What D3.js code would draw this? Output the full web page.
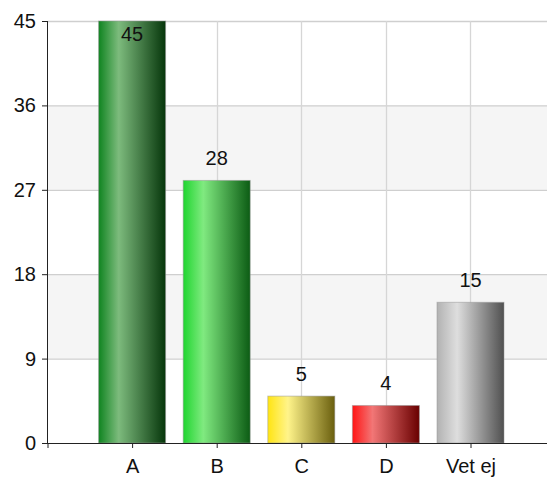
<!DOCTYPE html>
<html>
<head>
<meta charset="utf-8">
<script src="https://cdn.jsdelivr.net/npm/d3@7"></script>
<style>
  html, body { margin: 0; padding: 0; background: #fff; }
  svg { display: block; }
  text { font-family: Arial, "Liberation Sans", sans-serif; fill: #111; }
</style>
</head>
<body>
<div id="chart"></div>
<script>
// Answer counts per category
const categories = ["A", "B", "C", "D", "Vet ej"];
const values = [45, 28, 5, 4, 15];
const yTicks = [0, 9, 18, 27, 36, 45];

// Gradient stops per bar: edge colour, highlight, shaded side
const barColors = [
  ["#0f8420", "#7dbb7d", "#06360b"],
  ["#1fd52f", "#80ea80", "#0c5c14"],
  ["#ffe412", "#fff48a", "#6a5f0e"],
  ["#ff1414", "#f27676", "#690000"],
  ["#b2b2b2", "#dedede", "#505050"]
];

const W = 547, H = 478;
const margin = { left: 48, top: 21, bottom: 35 };
const plotBottom = H - margin.bottom;
const fontSize = 20;

const svg = d3.select("#chart").append("svg")
  .attr("width", W).attr("height", H);

// Positions: axis start plus one slot per category, and a trailing slot
const step = 84.6;
const x0 = margin.left - 0.5;
const x = d3.scalePoint()
  .domain(["", ...categories, " "])
  .range([x0, x0 + step * (categories.length + 1)]);

const y = d3.scaleLinear().domain([0, 45]).range([plotBottom, margin.top]);

const defs = svg.append("defs");
barColors.forEach((c, i) => {
  const g = defs.append("linearGradient")
    .attr("id", "grad" + i)
    .attr("x1", "0%").attr("x2", "100%").attr("y1", "0%").attr("y2", "0%");
  g.append("stop").attr("offset", "0%").attr("stop-color", c[0]);
  g.append("stop").attr("offset", "30%").attr("stop-color", c[1]);
  g.append("stop").attr("offset", "100%").attr("stop-color", c[2]);
});

// Alternating horizontal bands
const bands = svg.append("g");
for (let i = 0; i < yTicks.length - 1; i++) {
  if (i % 2 === 1) {
    bands.append("rect")
      .attr("x", margin.left).attr("width", W - margin.left)
      .attr("y", y(yTicks[i + 1]))
      .attr("height", y(yTicks[i]) - y(yTicks[i + 1]))
      .attr("fill", "#f5f5f5");
  }
}

// Horizontal grid lines
svg.append("g").selectAll("line").data(yTicks.slice(1)).join("line")
  .attr("x1", margin.left).attr("x2", W)
  .attr("y1", d => y(d) + 0.5).attr("y2", d => y(d) + 0.5)
  .attr("stroke", "#cfcfcf").attr("stroke-width", 1.3);

// Vertical grid lines at category centres
svg.append("g").selectAll("line").data(categories).join("line")
  .attr("x1", d => Math.round(x(d)) + 0.5).attr("x2", d => Math.round(x(d)) + 0.5)
  .attr("y1", margin.top).attr("y2", plotBottom)
  .attr("stroke", "#d6d6d6").attr("stroke-width", 1.3);

// Bars
const bw = 67;
svg.append("g").selectAll("rect").data(values).join("rect")
  .attr("x", (d, i) => x(categories[i]) - bw / 2)
  .attr("width", bw)
  .attr("y", d => y(d))
  .attr("height", d => y(0) - y(d))
  .attr("fill", (d, i) => `url(#grad${i})`)
  .attr("stroke", "rgba(150,150,150,0.5)")
  .attr("stroke-width", 1);

// Value labels above bars, kept inside the plot at the top
svg.append("g").selectAll("text").data(values).join("text")
  .attr("x", (d, i) => x(categories[i]))
  .attr("y", d => Math.max(y(d) - 15, margin.top + 20))
  .attr("text-anchor", "middle")
  .attr("font-size", fontSize)
  .text(d => d);

// Y axis
const yAxis = svg.append("g")
  .attr("transform", `translate(${margin.left},0)`)
  .call(d3.axisLeft(y).tickValues(yTicks).tickSize(6).tickPadding(6));
yAxis.select(".domain").attr("stroke", "#222").attr("d", `M-0.5,${margin.top}V${plotBottom}`);
yAxis.selectAll(".tick line").attr("stroke", "#222");
yAxis.selectAll("text").attr("font-size", fontSize).attr("fill", "#111")
  .attr("font-family", "Arial, 'Liberation Sans', sans-serif");

// X axis
const xAxis = svg.append("g")
  .attr("transform", `translate(0,${plotBottom})`)
  .call(d3.axisBottom(x).tickValues(["", ...categories]).tickSize(5).tickPadding(11));
xAxis.select(".domain").attr("stroke", "#222").attr("d", `M${margin.left - 1},0.5H${W}`);
xAxis.selectAll(".tick line").attr("stroke", "#222");
xAxis.selectAll("text").attr("font-size", fontSize).attr("fill", "#111")
  .attr("font-family", "Arial, 'Liberation Sans', sans-serif");
</script>
</body>
</html>
